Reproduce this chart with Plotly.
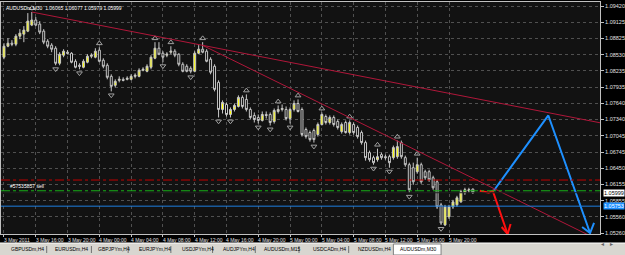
import plotly.graph_objects as go

# ---------------- data ----------------
OPEN = [1.08482,1.08684,1.08739,1.08721,1.08868,1.08905,1.08960,1.09071,1.09163,1.09089,
        1.08960,1.08776,1.08703,1.08647,1.08371,1.08519,1.08574,1.08555,1.08408,1.08335,
        1.08298,1.08390,1.08500,1.08482,1.08611,1.08427,1.08335,1.08132,1.07967,1.08059,
        1.08077,1.08077,1.08077,1.08132,1.08132,1.08243,1.08224,1.08298,1.08463,1.08647,
        1.08555,1.08519,1.08574,1.08592,1.08537,1.08353,1.08316,1.08279,1.08224,1.08555,
        1.08629,1.08592,1.08445,1.08316,1.08022,1.07525,1.07617,1.07433,1.07525,1.07580,
        1.07746,1.07709,1.07525,1.07415,1.07378,1.07323,1.07433,1.07433,1.07304,1.07488,
        1.07525,1.07525,1.07359,1.07525,1.07635,1.07525,1.07157,1.07102,1.07139,1.07065,
        1.07249,1.07396,1.07286,1.07378,1.07304,1.07120,1.07286,1.07102,1.07249,1.07194,
        1.07102,1.06918,1.06734,1.06642,1.06605,1.06697,1.06660,1.06660,1.06642,1.06660,
        1.06918,1.06642,1.06513,1.06458,1.06384,1.06513,1.06384,1.06384,1.06274,1.06200,
        1.05777,1.05409,1.05556,1.05740,1.05777,1.05832,1.05998,1.06035,1.06065]
HIGH = [1.08739,1.08831,1.08795,1.08905,1.08997,1.09052,1.09291,1.09310,1.09218,1.09144,
        1.08997,1.08813,1.08739,1.08684,1.08574,1.08629,1.08611,1.08574,1.08445,1.08371,
        1.08445,1.08537,1.08555,1.08647,1.08666,1.08463,1.08371,1.08169,1.08077,1.08132,
        1.08114,1.08132,1.08169,1.08187,1.08279,1.08298,1.08353,1.08519,1.08758,1.08758,
        1.08592,1.08574,1.08684,1.08629,1.08555,1.08390,1.08353,1.08316,1.08592,1.08703,
        1.08758,1.08629,1.08482,1.08353,1.08059,1.07691,1.07654,1.07562,1.07635,1.07783,
        1.07783,1.07801,1.07562,1.07470,1.07433,1.07488,1.07488,1.07470,1.07543,1.07599,
        1.07617,1.07580,1.07562,1.07691,1.07709,1.07562,1.07194,1.07139,1.07175,1.07286,
        1.07470,1.07433,1.07415,1.07415,1.07341,1.07286,1.07323,1.07323,1.07286,1.07231,
        1.07139,1.06955,1.06771,1.06679,1.06807,1.06734,1.06697,1.06697,1.06863,1.06955,
        1.06955,1.06679,1.06550,1.06550,1.06642,1.06550,1.06421,1.06421,1.06311,1.06237,
        1.05814,1.05777,1.05777,1.05869,1.05943,1.06053,1.06090,1.06090,1.06077]
LOW = [1.08445,1.08666,1.08684,1.08684,1.08813,1.08758,1.08942,1.09052,1.09052,1.08905,
       1.08721,1.08647,1.08574,1.08335,1.08335,1.08482,1.08537,1.08371,1.08279,1.08261,
       1.08279,1.08371,1.08463,1.08463,1.08390,1.08279,1.08077,1.07856,1.07930,1.08022,
       1.08040,1.08059,1.08059,1.08095,1.08114,1.08224,1.08206,1.08261,1.08445,1.08519,
       1.08390,1.08482,1.08537,1.08482,1.08316,1.08206,1.08206,1.08187,1.08206,1.08537,
       1.08555,1.08390,1.08169,1.07856,1.07378,1.07451,1.07396,1.07378,1.07488,1.07562,
       1.07543,1.07488,1.07341,1.07286,1.07267,1.07304,1.07359,1.07231,1.07267,1.07451,
       1.07488,1.07323,1.07267,1.07488,1.07470,1.07028,1.06991,1.06936,1.06918,1.07028,
       1.07231,1.07249,1.07249,1.07212,1.07157,1.07083,1.07083,1.07065,1.07065,1.06991,
       1.06881,1.06587,1.06568,1.06513,1.06568,1.06605,1.06605,1.06458,1.06605,1.06623,
       1.06623,1.06476,1.05998,1.06145,1.06347,1.06163,1.06237,1.06200,1.06053,1.05703,
       1.05409,1.05390,1.05519,1.05703,1.05740,1.05814,1.05961,1.05998,1.05979]
CLOSE = [1.08684,1.08739,1.08721,1.08868,1.08923,1.08979,1.09144,1.09163,1.09071,1.08942,
         1.08758,1.08684,1.08629,1.08371,1.08537,1.08592,1.08555,1.08390,1.08298,1.08316,
         1.08408,1.08500,1.08519,1.08592,1.08408,1.08316,1.08114,1.07948,1.08040,1.08077,
         1.08059,1.08095,1.08132,1.08151,1.08243,1.08261,1.08316,1.08482,1.08647,1.08537,
         1.08482,1.08537,1.08592,1.08519,1.08353,1.08224,1.08224,1.08224,1.08555,1.08629,
         1.08574,1.08408,1.08206,1.07893,1.07525,1.07654,1.07433,1.07525,1.07599,1.07746,
         1.07580,1.07525,1.07378,1.07341,1.07323,1.07433,1.07415,1.07286,1.07507,1.07525,
         1.07543,1.07359,1.07525,1.07635,1.07488,1.07065,1.07028,1.06973,1.06973,1.07249,
         1.07433,1.07286,1.07378,1.07249,1.07194,1.07249,1.07102,1.07286,1.07102,1.07028,
         1.06918,1.06642,1.06605,1.06550,1.06660,1.06642,1.06642,1.06550,1.06826,1.06844,
         1.06660,1.06513,1.06053,1.06200,1.06513,1.06200,1.06274,1.06237,1.06090,1.05740,
         1.05445,1.05740,1.05740,1.05832,1.05906,1.06016,1.06053,1.06053,1.05999]

FRACTAL_UP = [7, 24, 38, 42, 50, 61, 69, 74, 80, 87, 94, 99, 104]
FRACTAL_DOWN = [13, 19, 27, 40, 47, 54, 57, 64, 67, 72, 78, 93, 97, 102, 110]

TIME_TICKS = [0, 8, 16, 24, 32, 40, 48, 56, 64, 72, 80, 88, 96, 104, 112]
TIME_LABELS = ["3 May 2011", "3 May 16:00", "3 May 20:00", "4 May 00:00", "4 May 04:00",
               "4 May 08:00", "4 May 12:00", "4 May 16:00", "4 May 20:00", "5 May 00:00",
               "5 May 04:00", "5 May 08:00", "5 May 12:00", "5 May 16:00", "5 May 20:00"]
PRICE_TICKS = [1.09420, 1.09125, 1.08825, 1.08530, 1.08235, 1.07935, 1.07640, 1.07340,
               1.07045, 1.06745, 1.06450, 1.06155, 1.05855, 1.05560, 1.05260]

RED_LEVEL = 1.06232
GREEN_LEVEL = 1.06035
BLUE_LEVEL = 1.05753
BID = 1.05999

TREND1 = [(7, 1.09310), (50, 1.08700)]
TREND2 = [(50, 1.08700), (104, 1.06767)]

BLUE_PATH_X = [123.25, 137.0, 147.5]
BLUE_PATH_Y = [1.06035, 1.07415, 1.05261]
BLUE_HEAD_X = [145.5, 147.5, 148.5]
BLUE_HEAD_Y = [1.05371, 1.05261, 1.05445]
RED_PATH_X = [119.75, 122.0, 123.0, 126.75]
RED_PATH_Y = [1.06035, 1.05998, 1.06035, 1.05243]
RED_HEAD_X = [125.25, 126.75, 127.5]
RED_HEAD_Y = [1.05371, 1.05243, 1.05427]

TABS = ["GBPUSDm,H4", "EURUSDm,H4", "GBPJPYm,H4", "EURJPYm,H4", "USDJPYm,H4",
        "AUDJPYm,H4", "AUDUSDm,M15", "USDCADm,H4", "NZDUSDm,H4", "AUDUSDm,M30"]
HEADER = "AUDUSDm,M30  1.06065 1.06077 1.05979 1.05999"
ORDER_LABEL = "#57535857 sell"

# ---------------- figure ----------------
W, H = 625, 255
ML, MR, MT, MB = 0, 22, 2, 21
X_RANGE = [-0.75, 150.0]
Y_RANGE = [1.05243, 1.09494]
FONT = "Liberation Sans"
SMALL = 5

idx = list(range(len(OPEN)))
fig = go.Figure()

fig.add_trace(go.Candlestick(
    x=idx, open=OPEN, high=HIGH, low=LOW, close=CLOSE,
    increasing=dict(line=dict(color="#c8c8c8", width=1), fillcolor="#ffff00"),
    decreasing=dict(line=dict(color="#c8c8c8", width=1), fillcolor="#000000"),
    whiskerwidth=0, showlegend=False, hoverinfo="skip"))

off = 0.0007
fig.add_trace(go.Scatter(x=FRACTAL_UP, y=[HIGH[i] + off for i in FRACTAL_UP], mode="markers",
                         marker=dict(symbol="triangle-up-open", size=5, color="#a0a0a0",
                                     line=dict(width=1)),
                         showlegend=False, hoverinfo="skip"))
fig.add_trace(go.Scatter(x=FRACTAL_DOWN, y=[LOW[i] - off for i in FRACTAL_DOWN], mode="markers",
                         marker=dict(symbol="triangle-down-open", size=5, color="#a0a0a0",
                                     line=dict(width=1)),
                         showlegend=False, hoverinfo="skip"))

def ray(a, b, x_end):
    (x0, y0), (x1, y1) = a, b
    s = (y1 - y0) / (x1 - x0)
    return x0, y0, x_end, y0 + s * (x_end - x0)

for tl in (TREND1, TREND2):
    x0, y0, x1, y1 = ray(tl[0], tl[1], X_RANGE[1])
    fig.add_shape(type="line", x0=x0, y0=y0, x1=x1, y1=y1, xref="x", yref="y",
                  line=dict(color="#b0173a", width=1))

for lvl, col, dash in ((RED_LEVEL, "#c00000", "dashdot"), (GREEN_LEVEL, "#18b018", "dashdot"),
                       (BLUE_LEVEL, "#1e7fe0", "solid")):
    fig.add_shape(type="line", x0=0, x1=1, xref="paper", y0=lvl, y1=lvl, yref="y",
                  line=dict(color=col, width=1, dash=dash))
fig.add_shape(type="line", x0=0, x1=1, xref="paper", y0=BID, y1=BID, yref="y",
              line=dict(color="#202020", width=1))

fig.add_trace(go.Scatter(x=BLUE_PATH_X, y=BLUE_PATH_Y, mode="lines",
                         line=dict(color="#1e90ff", width=2), showlegend=False, hoverinfo="skip"))
fig.add_trace(go.Scatter(x=BLUE_HEAD_X, y=BLUE_HEAD_Y, mode="lines",
                         line=dict(color="#1e90ff", width=2), showlegend=False, hoverinfo="skip"))
fig.add_trace(go.Scatter(x=RED_PATH_X, y=RED_PATH_Y, mode="lines",
                         line=dict(color="#ff1010", width=2), showlegend=False, hoverinfo="skip"))
fig.add_trace(go.Scatter(x=RED_HEAD_X, y=RED_HEAD_Y, mode="lines",
                         line=dict(color="#ff1010", width=2), showlegend=False, hoverinfo="skip"))

# time labels (left-aligned, MT4 style)
for t, lab in zip(TIME_TICKS, TIME_LABELS):
    fig.add_annotation(x=t, y=0, xref="x", yref="paper", yanchor="top", xanchor="left",
                       text=lab, showarrow=False, yshift=-1, xshift=-2,
                       font=dict(family=FONT, size=SMALL, color="#e0e0e0"))

# price labels for the special lines
fig.add_annotation(x=1, xref="paper", y=BID, yref="y", xanchor="left", text="1.05999",
                   showarrow=False, bgcolor="#ffffff", borderpad=0, xshift=3,
                   font=dict(family=FONT, size=5.5, color="#000000"))
fig.add_annotation(x=1, xref="paper", y=BLUE_LEVEL, yref="y", xanchor="left", text="1.05753",
                   showarrow=False, bgcolor="#1e90ff", borderpad=0, xshift=3,
                   font=dict(family=FONT, size=5.5, color="#ffffff"))

fig.add_annotation(x=0.005, xref="paper", y=1, yref="paper", xanchor="left", yanchor="top",
                   text=HEADER, showarrow=False, yshift=-1,
                   font=dict(family=FONT, size=5, color="#ffffff"))
fig.add_annotation(x=1, y=GREEN_LEVEL, xref="x", yref="y", xanchor="left", yanchor="bottom",
                   text=ORDER_LABEL, showarrow=False, yshift=0,
                   font=dict(family=FONT, size=5, color="#ffffff"))

# tab bar
plot_h = H - MT - MB
def py(pix):  # pixel row -> paper y
    return (H - MB - pix) / plot_h
fig.add_shape(type="rect", xref="paper", yref="paper", x0=-0.01, x1=1.05, y0=py(255), y1=py(243),
              fillcolor="#d8d6d0", line=dict(width=0), layer="above")
fig.add_shape(type="line", xref="paper", yref="paper", x0=-0.01, x1=1.05, y0=py(243), y1=py(243),
              line=dict(color="#ffffff", width=1), layer="above")
tab_x = [8, 52, 96, 137, 180, 221, 263, 312, 357, 400]
sep_x = [46, 91, 128, 171, 213, 256, 300, 350]
pw = W - ML - MR
fig.add_shape(type="rect", xref="paper", yref="paper", x0=395 / pw, x1=443 / pw,
              y0=py(255), y1=py(244), fillcolor="#ffffff", line=dict(color="#808080", width=1),
              layer="above")
for tx, name in zip(tab_x, TABS):
    fig.add_annotation(x=tx / pw, y=py(249), xref="paper", yref="paper", xanchor="left",
                       yanchor="middle", text=name, showarrow=False,
                       font=dict(family=FONT, size=SMALL, color="#000000"))
for sx in sep_x:
    fig.add_shape(type="line", xref="paper", yref="paper", x0=sx / pw, x1=sx / pw,
                  y0=py(253), y1=py(246), line=dict(color="#707070", width=1), layer="above")
for ax_x, ch in ((609, "◂"), (618, "▸")):
    fig.add_annotation(x=ax_x / pw, y=py(249), xref="paper", yref="paper", text=ch,
                       showarrow=False, font=dict(family="DejaVu Sans", size=6, color="#606060"))

fig.update_layout(
    width=W, height=H, margin=dict(l=ML, r=MR, t=MT, b=MB),
    paper_bgcolor="#000000", plot_bgcolor="#121212",
    xaxis=dict(range=X_RANGE, rangeslider=dict(visible=False), tickvals=TIME_TICKS,
               showticklabels=False, ticks="outside", ticklen=2, tickcolor="#c0c0c0",
               showgrid=True, gridcolor="#505050", griddash="dot", gridwidth=1,
               showline=True, linecolor="#c0c0c0", linewidth=1, mirror=True, zeroline=False),
    yaxis=dict(range=Y_RANGE, side="right", tickvals=PRICE_TICKS,
               ticktext=[f"{v:.5f}" for v in PRICE_TICKS],
               tickfont=dict(family=FONT, size=5.5, color="#e0e0e0"),
               ticks="outside", ticklen=3, tickcolor="#c0c0c0",
               showgrid=True, gridcolor="#505050", griddash="dot", gridwidth=1,
               showline=True, linecolor="#c0c0c0", linewidth=1, mirror=True, zeroline=False),
    showlegend=False,
)

fig.write_html("out.html")
